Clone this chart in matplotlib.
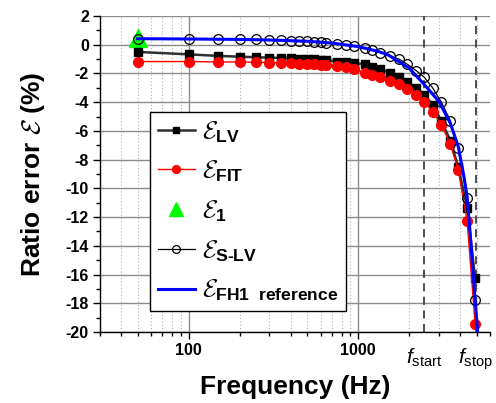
import matplotlib
matplotlib.use('Agg')
import matplotlib.pyplot as plt
from matplotlib.ticker import LogLocator, MultipleLocator, NullFormatter, FixedLocator, FixedFormatter
import matplotlib.transforms as mtransforms

plt.rcParams['font.family'] = ['Liberation Sans', 'DejaVu Sans']
plt.rcParams['mathtext.fontset'] = 'custom'
plt.rcParams['mathtext.rm'] = 'Liberation Sans'
plt.rcParams['mathtext.it'] = 'Liberation Sans:italic'
plt.rcParams['mathtext.bf'] = 'Liberation Sans:bold'
plt.rcParams['mathtext.cal'] = 'cmsy10'
plt.rcParams['axes.unicode_minus'] = False

# measured frequencies (Hz)
freq = [50, 100, 150, 200, 250, 300, 350, 400, 450, 500, 550, 600, 650, 750, 850,
        950, 1100, 1200, 1350, 1550, 1750, 1950, 2200, 2450, 2750, 3100, 3500,
        3900, 4400, 4900]

e_lv = [-0.50, -0.67, -0.78, -0.83, -0.87, -0.90, -0.92, -0.94, -0.97, -0.99,
        -1.01, -1.04, -1.06, -1.17, -1.22, -1.29, -1.36, -1.52, -1.70, -1.98,
        -2.26, -2.59, -3.02, -3.47, -4.18, -5.30, -6.67, -8.52, -11.37, -16.24]

e_fit = [-1.17, -1.17, -1.20, -1.20, -1.22, -1.24, -1.27, -1.29, -1.31, -1.34,
         -1.36, -1.38, -1.40, -1.47, -1.56, -1.70, -1.94, -2.10, -2.26, -2.50,
         -2.73, -3.09, -3.49, -3.96, -4.65, -5.58, -6.93, -8.74, -12.30, -19.42]

e_slv = [0.40, 0.40, 0.38, 0.38, 0.37, 0.33, 0.31, 0.29, 0.26, 0.24,
         0.22, 0.17, 0.15, 0.06, -0.01, -0.08, -0.24, -0.36, -0.55, -0.78,
         -1.01, -1.36, -1.80, -2.25, -3.00, -4.00, -5.30, -7.21, -10.67, -17.75]

f_1 = [50]
e_1 = [0.45]

# FH1 reference curve
f_ref = [50, 100, 200, 300, 500, 700, 1000, 1300, 1500, 2000, 2450, 3000, 3500,
         3900, 4200, 4400, 4600, 4800, 5070, 5200]
e_ref = [0.42, 0.40, 0.37, 0.33, 0.24, 0.12, -0.13, -0.45, -0.70, -1.63, -2.75,
         -3.96, -5.46, -7.10, -9.10, -10.60, -13.40, -16.35, -20.0, -21.5]

f_start = 2450
f_stop = 4950

fig = plt.figure(figsize=(4.96, 4.03), dpi=100)
ax = fig.add_axes([100/496, 1-332/403, 390/496, 316/403])

l_1, = ax.plot(f_1, e_1, ls='none', marker='^', ms=12.5, color='#00ff00',
               label=r'$\mathcal{E}_{\mathbf{1}}$', zorder=3)
l_lv, = ax.plot(freq, e_lv, color='#303030', lw=1.8, marker='s', ms=5.5, mfc='black', mec='black',
                label=r'$\mathcal{E}_{\mathbf{LV}}$', zorder=4)
l_fit, = ax.plot(freq, e_fit, color='red', lw=1.0, marker='o', ms=7, mfc='red', mec='red',
                 label=r'$\mathcal{E}_{\mathbf{FIT}}$', zorder=4)
l_slv, = ax.plot(freq, e_slv, color='black', lw=0.9, marker='o', ms=7, mfc='none', mec='black',
                 mew=0.9, label=r'$\mathcal{E}_{\mathbf{S‐LV}}$', zorder=5)
l_ref, = ax.plot(f_ref, e_ref, color='#0000ff', lw=2.2,
                 label=r'$\mathcal{E}_{\mathbf{FH1}\ \ \mathbf{reference}}$', zorder=6)

for fx in (f_start, f_stop):
    ax.axvline(fx, color='#404040', lw=1.3, ls=(0, (4.5, 3)), zorder=2)

ax.set_xscale('log')
ax.set_xlim(30, 6000)
ax.set_ylim(-20, 2)

ax.xaxis.set_major_locator(FixedLocator([100, 1000]))
ax.xaxis.set_major_formatter(FixedFormatter(['100', '1000']))
ax.xaxis.set_minor_locator(LogLocator(base=10, subs=range(2, 10), numticks=20))
ax.xaxis.set_minor_formatter(NullFormatter())
ax.yaxis.set_major_locator(MultipleLocator(2))
ax.yaxis.set_minor_locator(MultipleLocator(1))

ax.grid(which='major', axis='y', color='#8c8c8c', lw=1.0)
ax.grid(which='major', axis='x', color='#8c8c8c', lw=1.0)
ax.grid(which='minor', axis='x', color='#b0b0b0', lw=0.8, ls=(0, (1, 2)))
ax.set_axisbelow(True)

for s in ('top', 'right'):
    ax.spines[s].set_visible(False)
ax.spines['left'].set_linewidth(1.0)
ax.spines['bottom'].set_linewidth(1.0)

ax.tick_params(which='major', direction='out', length=5, width=1, labelsize=11.5, pad=3)
ax.tick_params(which='minor', direction='out', length=3, width=1)
for lbl in ax.get_xticklabels() + ax.get_yticklabels():
    lbl.set_fontweight('bold')

trans = mtransforms.blended_transform_factory(ax.transData, ax.transAxes)
ax.text(f_start, -0.045, r'$f_{\mathrm{start}}$', transform=trans, ha='center', va='top', fontsize=15)
ax.text(f_stop, -0.045, r'$f_{\mathrm{stop}}$', transform=trans, ha='center', va='top', fontsize=15)

ax.set_xlabel('Frequency (Hz)', fontsize=19, fontweight='bold', labelpad=12)
ax.set_ylabel(r'Ratio error $\mathcal{E}$ (%)', fontsize=19, fontweight='bold', labelpad=13)

handles = [l_lv, l_fit, l_1, l_slv, l_ref]
leg = ax.legend(handles, [h.get_label() for h in handles],
                loc='upper left', bbox_to_anchor=(50/390, (332-112)/316),
                fontsize=18, frameon=True, fancybox=False, framealpha=1,
                edgecolor='black', handlelength=1.5, handletextpad=0.3,
                labelspacing=0.58, borderpad=0.3, borderaxespad=0, markerscale=0.8)
leg.get_frame().set_linewidth(1.0)
leg.set_zorder(10)

fig.savefig('out.png', dpi=100)
